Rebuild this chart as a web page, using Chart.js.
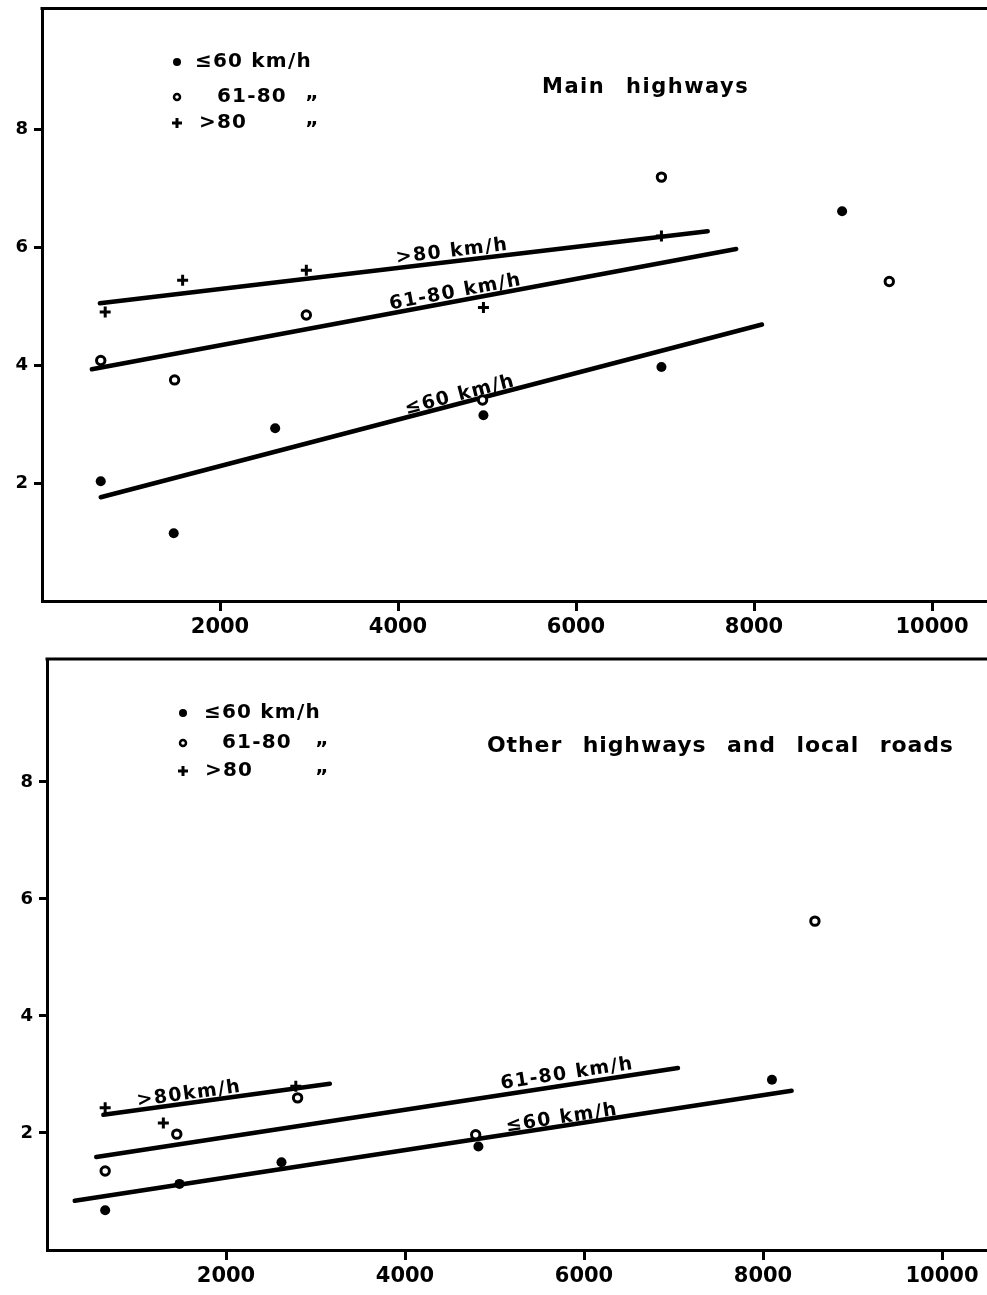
<!DOCTYPE html>
<html>
<head>
<meta charset="utf-8">
<script src="https://cdn.jsdelivr.net/npm/chart.js@4.4.1/dist/chart.umd.min.js"></script>
<style>
  html, body { margin: 0; padding: 0; background: #fff; width: 987px; height: 1295px; overflow: hidden; position: relative; }
  canvas { position: absolute; left: 0; }
  #graficoMain { top: 0; }
  #graficoOther { top: 645px; }
</style>
</head>
<body>
<canvas id="graficoMain" width="1040" height="645"></canvas>
<canvas id="graficoOther" width="1040" height="650"></canvas>
<script>
// ticks shared by both panels
const xTicks = [2000, 4000, 6000, 8000, 10000];
const yTicks = [2, 4, 6, 8];

// top panel: Main highways
const mainSlowX = [660, 1480, 2620, 4960, 6960, 8990];
const mainSlowY = [2.03, 1.15, 2.93, 3.15, 3.97, 6.61];
const mainMidX = [660, 1490, 2970, 4950, 6960, 9520];
const mainMidY = [4.08, 3.75, 4.85, 3.41, 7.19, 5.42];
const mainFastX = [710, 1580, 2970, 4960, 6960];
const mainFastY = [4.90, 5.44, 5.61, 4.98, 6.19];
// fitted lines (end points)
const mainSlowLineX = [660, 8090];
const mainSlowLineY = [1.76, 4.69];
const mainMidLineX = [560, 7800];
const mainMidLineY = [3.93, 5.97];
const mainFastLineX = [650, 7480];
const mainFastLineY = [5.05, 6.27];

// bottom panel: Other highways and local roads
const otherSlowX = [650, 1480, 2620, 4820, 8100];
const otherSlowY = [0.68, 1.13, 1.50, 1.77, 2.91];
const otherMidX = [650, 1450, 2800, 4790, 8580];
const otherMidY = [1.35, 1.98, 2.60, 1.97, 5.62];
const otherFastX = [650, 1300, 2780];
const otherFastY = [2.43, 2.17, 2.80];
const otherSlowLineX = [310, 8320];
const otherSlowLineY = [0.84, 2.72];
const otherMidLineX = [550, 7050];
const otherMidLineY = [1.59, 3.11];
const otherFastLineX = [630, 3160];
const otherFastLineY = [2.31, 2.84];

const legendLabels = ["≤60 km/h", "61-80", ">80"];
const lineLabelsMain = [">80 km/h", "61-80 km/h", "≤60 km/h"];
const lineLabelsOther = [">80km/h", "61-80 km/h", "≤60 km/h"];

const FONT = "'DejaVu Sans', 'Liberation Sans', sans-serif";

function pares(xs, ys) {
  return xs.map((x, i) => ({ x: x, y: ys[i] }));
}

function pontos(xs, ys, tipo) {
  const ds = { data: pares(xs, ys), showLine: false, borderColor: "#000", pointHoverRadius: 0 };
  if (tipo === "cheio") {
    ds.pointStyle = "circle"; ds.pointRadius = 5; ds.backgroundColor = "#000"; ds.borderWidth = 0;
  } else if (tipo === "aberto") {
    ds.pointStyle = "circle"; ds.pointRadius = 4.2; ds.backgroundColor = "#fff"; ds.borderWidth = 3;
  } else {
    ds.pointStyle = "cross"; ds.pointRadius = 5.5; ds.backgroundColor = "#000"; ds.borderWidth = 3;
  }
  return ds;
}

function reta(xs, ys) {
  return {
    data: pares(xs, ys), showLine: true, pointRadius: 0, pointHoverRadius: 0,
    borderColor: "#000", borderWidth: 4.5, borderCapStyle: "round", backgroundColor: "#000"
  };
}

function texto(ctx, str, x, y, font, ls, ws) {
  ctx.font = font;
  ctx.letterSpacing = ls || "0px";
  ctx.wordSpacing = ws || "0px";
  ctx.fillText(str, x, y);
  ctx.letterSpacing = "0px";
  ctx.wordSpacing = "0px";
}

// frame top edge, legend, title and the labels along the fitted lines
const extras = {
  id: "extras",
  afterDatasetsDraw(chart, args, opts) {
    const ctx = chart.ctx;
    const area = chart.chartArea;
    const xs = chart.scales.x, ys = chart.scales.y;
    ctx.save();
    ctx.strokeStyle = "#000";
    ctx.fillStyle = "#000";
    ctx.lineWidth = 3;
    ctx.beginPath();
    ctx.moveTo(area.left - 1.5, area.top);
    ctx.lineTo(area.right, area.top);
    ctx.stroke();

    // legend
    const lg = opts.legend;
    const estilos = [
      { pointStyle: "circle", radius: 4, borderWidth: 0, fill: "#000" },
      { pointStyle: "circle", radius: 3, borderWidth: 2.5, fill: "#fff" },
      { pointStyle: "cross", radius: 5, borderWidth: 3, fill: "#000" }
    ];
    estilos.forEach((e, i) => {
      ctx.fillStyle = e.fill;
      ctx.strokeStyle = "#000";
      ctx.lineWidth = e.borderWidth;
      Chart.helpers.drawPoint(ctx, { pointStyle: e.pointStyle, radius: e.radius, borderWidth: e.borderWidth, rotation: 0 }, lg.symbolX, lg.rows[i]);
    });
    ctx.fillStyle = "#000";
    ctx.textBaseline = "middle";
    ctx.textAlign = "left";
    legendLabels.forEach((t, i) => {
      texto(ctx, t, lg.textX[i], lg.rows[i], "bold 20px " + FONT, "1.2px");
    });
    [1, 2].forEach(i => {
      texto(ctx, "\u201D", lg.dittoX, lg.rows[i] + 7, "bold 20px " + FONT);
    });

    // title
    const t = opts.title;
    ctx.textBaseline = "alphabetic";
    texto(ctx, t.text, t.x, t.y, "bold " + t.size + "px " + FONT, t.ls, "12px");

    // labels along lines
    ctx.textAlign = "center";
    opts.lineLabels.forEach(l => {
      const pts = chart.data.datasets[l.line].data;
      const x1 = xs.getPixelForValue(pts[0].x), y1 = ys.getPixelForValue(pts[0].y);
      const x2 = xs.getPixelForValue(pts[1].x), y2 = ys.getPixelForValue(pts[1].y);
      const px = xs.getPixelForValue(l.at);
      const py = y1 + (px - x1) * (y2 - y1) / (x2 - x1);
      const ang = Math.atan2(y2 - y1, x2 - x1);
      ctx.save();
      ctx.translate(px, py);
      ctx.rotate(ang);
      texto(ctx, l.text, 0, -l.gap, "bold 19px " + FONT, "1.4px");
      ctx.restore();
    });
    ctx.restore();
  }
};

function gerarGrafico(id, d) {
  const ctx = document.getElementById(id).getContext("2d");
  return new Chart(ctx, {
    type: "scatter",
    data: {
      datasets: [
        pontos(d.slowX, d.slowY, "cheio"),
        pontos(d.midX, d.midY, "aberto"),
        pontos(d.fastX, d.fastY, "cruz"),
        reta(d.slowLineX, d.slowLineY),
        reta(d.midLineX, d.midLineY),
        reta(d.fastLineX, d.fastLineY)
      ]
    },
    options: {
      responsive: false,
      animation: false,
      events: [],
      layout: { padding: d.padding },
      plugins: {
        legend: { display: false },
        tooltip: { enabled: false },
        extras: d.extras
      },
      scales: {
        x: {
          type: "linear",
          min: 0,
          max: 11000,
          afterBuildTicks: s => { s.ticks = xTicks.map(v => ({ value: v })); },
          afterFit: s => { s.height = d.xHeight; s.paddingLeft = 0; s.paddingRight = 0; },
          grid: { drawOnChartArea: false, drawTicks: true, tickLength: 10, tickWidth: 3, tickColor: "#000", color: "#000" },
          border: { display: true, color: "#000", width: 3 },
          ticks: { color: "#000", padding: 4, maxRotation: 0, callback: v => String(v), font: { family: FONT, size: 21, weight: "bold" } }
        },
        y: {
          type: "linear",
          min: 0,
          max: d.yMax,
          afterBuildTicks: s => { s.ticks = yTicks.map(v => ({ value: v })); },
          afterFit: s => { s.width = d.yWidth; s.paddingTop = 0; s.paddingBottom = 0; },
          grid: { drawOnChartArea: false, drawTicks: true, tickLength: 8, tickWidth: 3, tickColor: "#000", color: "#000" },
          border: { display: true, color: "#000", width: 3 },
          ticks: { color: "#000", padding: 6, callback: v => String(v), font: { family: FONT, size: 18, weight: "bold" } }
        }
      }
    },
    plugins: [extras]
  });
}

gerarGrafico("graficoMain", {
  slowX: mainSlowX, slowY: mainSlowY, midX: mainMidX, midY: mainMidY, fastX: mainFastX, fastY: mainFastY,
  slowLineX: mainSlowLineX, slowLineY: mainSlowLineY, midLineX: mainMidLineX, midLineY: mainMidLineY,
  fastLineX: mainFastLineX, fastLineY: mainFastLineY,
  padding: { top: 8, left: 0, right: 19, bottom: 0 },
  yWidth: 42, xHeight: 44, yMax: 10.05,
  extras: {
    title: { text: "Main highways", x: 542, y: 93, size: 21, ls: "1.5px" },
    legend: { symbolX: 177, rows: [62, 97, 123], textX: [195, 217, 199], dittoX: 305 },
    lineLabels: [
      { line: 5, text: lineLabelsMain[0], at: 4620, gap: 5 },
      { line: 4, text: lineLabelsMain[1], at: 4665, gap: 4 },
      { line: 3, text: lineLabelsMain[2], at: 4720, gap: 3 }
    ]
  }
});

gerarGrafico("graficoOther", {
  slowX: otherSlowX, slowY: otherSlowY, midX: otherMidX, midY: otherMidY, fastX: otherFastX, fastY: otherFastY,
  slowLineX: otherSlowLineX, slowLineY: otherSlowLineY, midLineX: otherMidLineX, midLineY: otherMidLineY,
  fastLineX: otherFastLineX, fastLineY: otherFastLineY,
  padding: { top: 14, left: 0, right: 8.5, bottom: 0 },
  yWidth: 47, xHeight: 45, yMax: 10.1,
  extras: {
    title: { text: "Other highways and local roads", x: 487, y: 107, size: 22, ls: "0.9px" },
    legend: { symbolX: 183, rows: [68, 98, 126], textX: [204, 222, 205], dittoX: 315 },
    lineLabels: [
      { line: 5, text: lineLabelsOther[0], at: 1600, gap: 4 },
      { line: 4, text: lineLabelsOther[1], at: 5830, gap: 6 },
      { line: 3, text: lineLabelsOther[2], at: 5765, gap: 3 }
    ]
  }
});
</script>
</body>
</html>
